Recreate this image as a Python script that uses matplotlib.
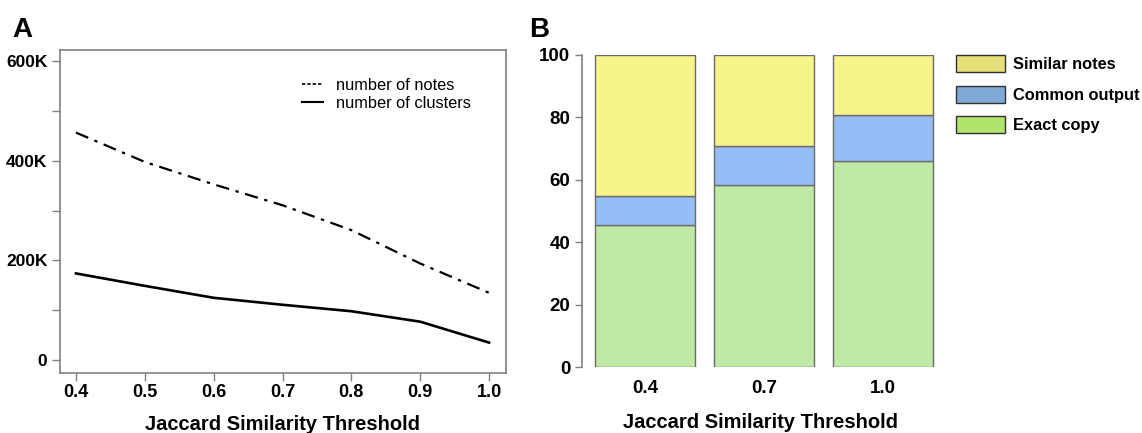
import numpy as np
import matplotlib
matplotlib.use('Agg')
import matplotlib.pyplot as plt
from matplotlib.lines import Line2D
from matplotlib.patches import Patch
from matplotlib.ticker import MultipleLocator, FuncFormatter

plt.rcParams['font.family'] = ['Liberation Sans', 'DejaVu Sans']

# panel A data (thousands)
thresholds = [0.4, 0.5, 0.6, 0.7, 0.8, 0.9, 1.0]
n_notes = [457, 398, 353, 311, 261, 194, 135]
n_clusters = [174, 149, 125, 111, 98, 77, 35]

# panel B data (percent)
bar_labels = ['0.4', '0.7', '1.0']
exact_copy = [45.4, 58.3, 66.0]
common_output = [9.5, 12.5, 14.7]
similar_notes = [100 - e - c for e, c in zip(exact_copy, common_output)]

gray = '#808080'

fig = plt.figure(figsize=(11.42, 4.33), dpi=100)

# ---- A
ax = fig.add_axes([0.0525, 0.1393, 0.3906, 0.7452])
x = np.array(thresholds)
ax.plot(x, np.array(n_notes) * 1000, color='black', lw=1.6, linestyle=(0, (6, 3, 1.5, 3)))
ax.plot(x, np.array(n_clusters) * 1000, color='black', lw=1.9)
ax.set_xlim(0.3767, 1.0247)
ax.set_ylim(-25500, 623000)
ax.xaxis.set_major_locator(MultipleLocator(0.1))
ax.yaxis.set_major_locator(MultipleLocator(200000))
ax.yaxis.set_minor_locator(MultipleLocator(100000))
ax.xaxis.set_major_formatter(FuncFormatter(lambda v, p: f'{v:.1f}'))
ax.yaxis.set_major_formatter(FuncFormatter(lambda v, p: '0' if v == 0 else f'{int(v/1000)}K'))
for s in ax.spines.values():
    s.set_color(gray)
    s.set_linewidth(1.2)
ax.tick_params(axis='both', which='both', direction='out', color=gray, length=6, width=1)
ax.tick_params(axis='y', labelsize=12.5, pad=3)
ax.tick_params(axis='x', labelsize=13, pad=2)
for lab in ax.get_xticklabels() + ax.get_yticklabels():
    lab.set_fontweight('bold')
ax.set_xlabel('Jaccard Similarity Threshold', fontsize=14.5, fontweight='bold')
ax.xaxis.set_label_coords(0.5, -0.13)
handles = [Line2D([], [], color='black', lw=1.2, linestyle=(0, (2, 1.2))),
           Line2D([], [], color='black', lw=1.5)]
ax.legend(handles, ['number of notes', 'number of clusters'], loc='upper right',
          bbox_to_anchor=(0.955, 0.96), frameon=False, fontsize=11.8,
          handlelength=1.3, handletextpad=0.8, labelspacing=0.2)
fig.text(0.011, 0.915, 'A', fontsize=20, fontweight='bold')

# ---- B
bx = fig.add_axes([0.5096, 0.1524, 0.3135, 0.7206])
pos = np.arange(len(bar_labels))
w = 0.84
ec = '#6a6a6a'
bx.bar(pos, exact_copy, w, color='#BEEAA6', edgecolor=ec, linewidth=1)
bx.bar(pos, common_output, w, bottom=exact_copy, color='#96BDF5', edgecolor=ec, linewidth=1)
bot2 = [e + c for e, c in zip(exact_copy, common_output)]
bx.bar(pos, similar_notes, w, bottom=bot2, color='#F7F48B', edgecolor=ec, linewidth=1)
bx.set_xlim(-0.53, 2.48)
bx.set_ylim(0, 100)
bx.set_xticks(pos)
bx.set_xticklabels(bar_labels)
bx.set_yticks([0, 20, 40, 60, 80, 100])
for side in ['top', 'right', 'bottom']:
    bx.spines[side].set_visible(False)
bx.spines['left'].set_color(gray)
bx.spines['left'].set_linewidth(1.2)
bx.tick_params(axis='y', direction='out', color=gray, length=5, width=1, labelsize=13.5)
bx.tick_params(axis='x', length=0, labelsize=13.5, pad=9)
for lab in bx.get_xticklabels() + bx.get_yticklabels():
    lab.set_fontweight('bold')
bx.set_xlabel('Jaccard Similarity Threshold', fontsize=14.5, fontweight='bold')
bx.xaxis.set_label_coords(0.5, -0.148)
leg_handles = [Patch(facecolor='#E6DF77', edgecolor='#303030'),
               Patch(facecolor='#7FA8D6', edgecolor='#303030'),
               Patch(facecolor='#B2E46C', edgecolor='#303030')]
lg = bx.legend(leg_handles, ['Similar notes', 'Common output', 'Exact copy'],
               loc='upper left', bbox_to_anchor=(1.003, 1.047), frameon=False,
               prop={'weight': 'bold', 'size': 11.8}, handlelength=3.0, handleheight=1.25,
               handletextpad=0.5, labelspacing=0.8)
fig.text(0.463, 0.915, 'B', fontsize=20, fontweight='bold')

fig.savefig('out.png', dpi=100)
